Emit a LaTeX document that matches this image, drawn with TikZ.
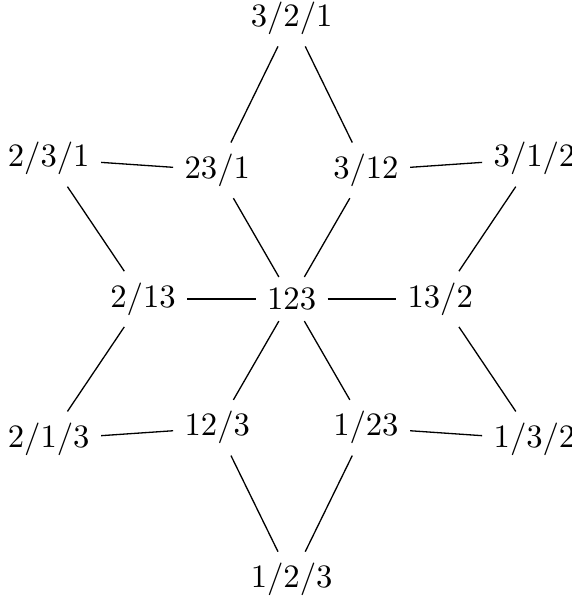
\documentclass[tikz,border=0pt]{standalone}
\usepackage{amsmath,amssymb}
\usetikzlibrary{positioning,calc}

\begin{document}
\begin{tikzpicture}[every node/.style={font=\normalsize}]

  \useasboundingbox (-3.14,-3.23) rectangle (3.01,3.22);

  % Centre and inner ring of partitions
  \node (c) at (0,0) {$123$};
  \node (i1) at (60:1.6) {$3/12$};
  \node (i2) at (120:1.6) {$23/1$};
  \node (i3) at (180:1.6) {$2/13$};
  \node (i4) at (240:1.6) {$12/3$};
  \node (i5) at (300:1.6) {$1/23$};
  \node (i6) at (0:1.6) {$13/2$};

  % Outer ring of partitions
  \node (o1) at (90:3.02) {$3/2/1$};
  \node (o2) at (150:3.02) {$2/3/1$};
  \node (o3) at (210:3.02) {$2/1/3$};
  \node (o4) at (270:3.02) {$1/2/3$};
  \node (o5) at (330:3.02) {$1/3/2$};
  \node (o6) at (30:3.02) {$3/1/2$};

  % Lines from the centre
  \path[draw]
    (c) edge (i1)
    (c) edge (i2)
    (c) edge (i3)
    (c) edge (i4)
    (c) edge (i5)
    (c) edge (i6);

  % Lines round the star
  \path[draw]
    (o1) edge (i2)
    (o1) edge (i1)
    (o2) edge (i2)
    (o2) edge (i3)
    (o3) edge (i3)
    (o3) edge (i4)
    (o4) edge (i4)
    (o4) edge (i5)
    (o5) edge (i5)
    (o5) edge (i6)
    (o6) edge (i6)
    (o6) edge (i1);

\end{tikzpicture}
\end{document}
